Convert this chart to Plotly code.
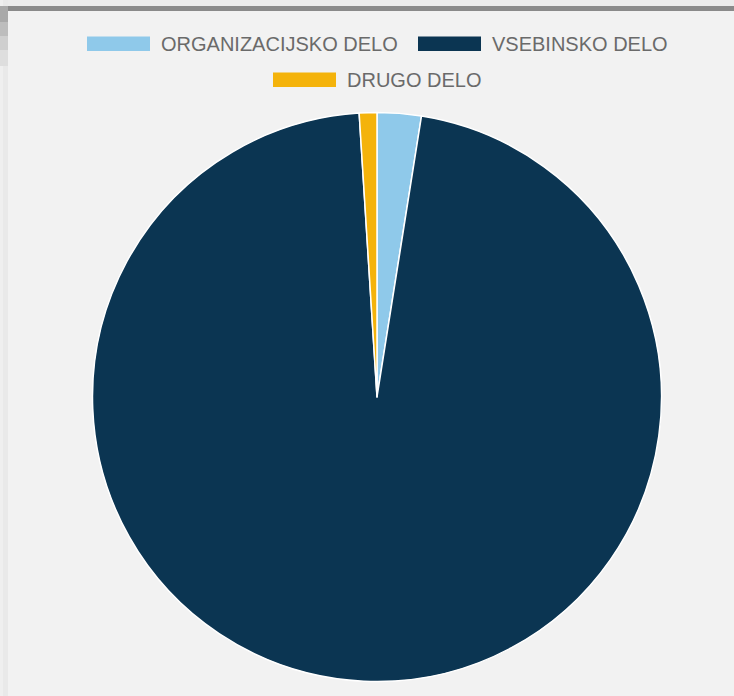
import plotly.graph_objects as go

# ---- data ----
labels = ["ORGANIZACIJSKO DELO", "VSEBINSKO DELO", "DRUGO DELO"]
values = [2.5, 96.5, 1.0]
colors = ["#8fc9ea", "#0b3552", "#f4b30b"]

W, H = 734, 696


def px(x):
    return x / W


def py(y):
    return 1 - y / H


# pie geometry (pixels)
cx, cy, r = 377, 397, 284.5

fig = go.Figure(
    go.Pie(
        labels=labels,
        values=values,
        sort=False,
        direction="clockwise",
        rotation=0,
        marker=dict(colors=colors, line=dict(color="#ffffff", width=1.5)),
        textinfo="none",
        hoverinfo="none",
        showlegend=False,
        domain=dict(x=[px(cx - r), px(cx + r)], y=[py(cy + r), py(cy - r)]),
    )
)

shapes = []
annotations = []

# frame (screenshot border)
def rect(x0, y0, x1, y1, color):
    shapes.append(dict(type="rect", xref="paper", yref="paper",
                       x0=px(x0), x1=px(x1), y0=py(y1), y1=py(y0),
                       fillcolor=color, line=dict(width=0), layer="below"))

rect(0, 0, W, 6, "#ebebeb")
rect(0, 0, 8, H, "#e9e9e9")
rect(0, 0, 3, H, "#efefef")
rect(0, 6, 8, 22, "#a9a9a9")
rect(0, 22, 8, 36, "#bdbdbd")
rect(0, 36, 8, 50, "#cfcfcf")
rect(0, 50, 8, 66, "#dedede")
rect(8, 6, W, 11, "#8a8a8a")

# custom legend (wide boxes)
legend_pos = [(87, 36.5), (418, 36.5), (273, 72.5)]
box_w, box_h, gap = 63, 14.5, 9
for (lx, ly), lab, col in zip(legend_pos, labels, colors):
    shapes.append(dict(type="rect", xref="paper", yref="paper",
                       x0=px(lx), x1=px(lx + box_w), y0=py(ly + box_h), y1=py(ly),
                       fillcolor=col, line=dict(width=0)))
    annotations.append(dict(xref="paper", yref="paper", x=px(lx + box_w + gap),
                            y=py(ly + box_h / 2), xanchor="left", yanchor="middle",
                            text=lab, showarrow=False,
                            font=dict(family="Liberation Sans, Arial, sans-serif",
                                      size=20, color="#6a6a6a")))

fig.update_layout(
    width=W, height=H,
    margin=dict(l=0, r=0, t=0, b=0),
    paper_bgcolor="#f2f2f2",
    plot_bgcolor="#f2f2f2",
    shapes=shapes,
    annotations=annotations,
)

fig.write_html(
    "out.html",
    config={"displayModeBar": False},
    post_script="document.body.style.margin='0';document.body.style.background='#f2f2f2';document.body.style.overflow='hidden';",
)
